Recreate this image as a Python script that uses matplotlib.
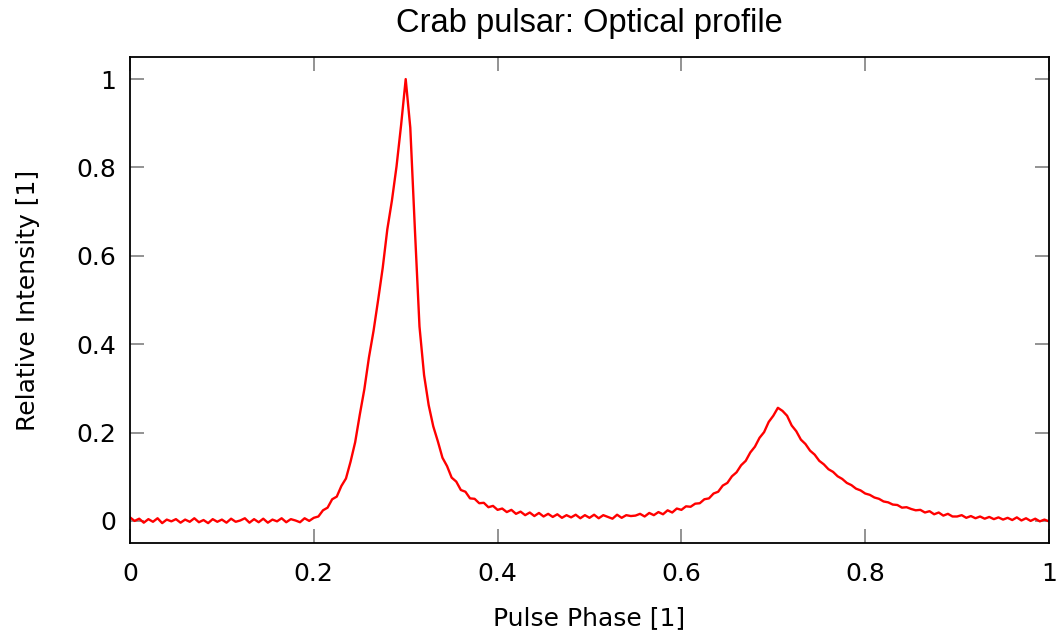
import numpy as np
import matplotlib
matplotlib.use("Agg")
import matplotlib.pyplot as plt

# Pulse phase grid (0 to 1, step 0.005)
phase = np.linspace(0.0, 1.0, 201)

# Relative intensity
intensity = [
    0.008, 0.000, 0.005, -0.004, 0.004, -0.002, 0.006, -0.005, 0.003, -0.001,
    0.004, -0.004, 0.003, -0.002, 0.006, -0.003, 0.002, -0.005, 0.004, -0.002,
    0.003, -0.004, 0.005, -0.002, 0.001, 0.006, -0.004, 0.004, -0.003, 0.005,
    -0.004, 0.003, -0.001, 0.006, -0.003, 0.004, 0.001, -0.003, 0.006, 0.000,
    0.007, 0.010, 0.024, 0.030, 0.049, 0.055, 0.079, 0.096, 0.134, 0.178,
    0.240, 0.298, 0.370, 0.430, 0.500, 0.573, 0.660, 0.725, 0.802, 0.896,
    1.000, 0.890, 0.660, 0.440, 0.330, 0.262, 0.214, 0.180, 0.143, 0.124,
    0.098, 0.089, 0.070, 0.066, 0.051, 0.050, 0.040, 0.041, 0.031, 0.034,
    0.025, 0.028, 0.020, 0.025, 0.016, 0.021, 0.013, 0.019, 0.011, 0.018,
    0.010, 0.016, 0.009, 0.015, 0.007, 0.013, 0.008, 0.014, 0.006, 0.013,
    0.007, 0.014, 0.006, 0.013, 0.009, 0.005, 0.014, 0.007, 0.013, 0.011,
    0.012, 0.016, 0.010, 0.018, 0.013, 0.020, 0.015, 0.024, 0.019, 0.028,
    0.025, 0.033, 0.032, 0.039, 0.040, 0.049, 0.051, 0.062, 0.066, 0.080,
    0.086, 0.101, 0.110, 0.126, 0.136, 0.155, 0.168, 0.188, 0.201, 0.224,
    0.238, 0.256, 0.249, 0.238, 0.216, 0.203, 0.184, 0.174, 0.159, 0.150,
    0.136, 0.128, 0.117, 0.111, 0.101, 0.095, 0.086, 0.081, 0.073, 0.069,
    0.062, 0.059, 0.053, 0.050, 0.044, 0.042, 0.037, 0.036, 0.030, 0.031,
    0.027, 0.024, 0.025, 0.019, 0.022, 0.015, 0.019, 0.012, 0.016, 0.010,
    0.010, 0.013, 0.007, 0.011, 0.006, 0.010, 0.005, 0.009, 0.004, 0.008,
    0.003, 0.007, 0.002, 0.008, 0.001, 0.006, 0.000, 0.005, -0.001, 0.003,
    -0.001,
]

xticks = [0, 0.2, 0.4, 0.6, 0.8, 1]
xticklabels = ["0", "0.2", "0.4", "0.6", "0.8", "1"]
yticks = [0, 0.2, 0.4, 0.6, 0.8, 1]
yticklabels = ["0", "0.2", "0.4", "0.6", "0.8", "1"]

plt.rcParams['font.family'] = ['DejaVu Sans']

fig = plt.figure(figsize=(10.61, 6.33), dpi=100)
ax = fig.add_axes([130/1061, 1 - 543/633, (1049-130)/1061, (543-57)/633])

ax.plot(phase, intensity, color='#ff0000', lw=1.7)

ax.set_xlim(0, 1)
ax.set_ylim(-0.05, 1.05)
ax.set_xticks(xticks)
ax.set_xticklabels(xticklabels)
ax.set_yticks(yticks)
ax.set_yticklabels(yticklabels)
ax.tick_params(direction='in', length=10, width=1.2, color='#808080',
               labelsize=18, top=True, right=True)
ax.tick_params(axis='x', pad=14)
ax.tick_params(axis='y', pad=10)
for s in ax.spines.values():
    s.set_linewidth(1.3)
    s.set_color('black')

ax.set_xlabel("Pulse Phase [1]", fontsize=18, labelpad=14)
ax.set_ylabel("Relative Intensity [1]", fontsize=18, labelpad=26)
ax.set_title("Crab pulsar: Optical profile", fontsize=23.5,
             family=['Liberation Sans'], pad=18)

fig.savefig("out.png", dpi=100)
